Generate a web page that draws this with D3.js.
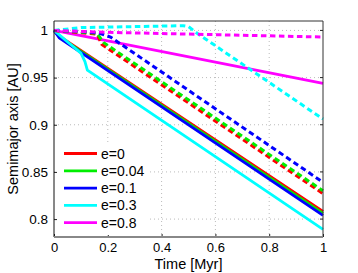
<!DOCTYPE html>
<html>
<head>
<meta charset="utf-8">
<script src="https://cdn.jsdelivr.net/npm/d3@7"></script>
<style>
  body { margin: 0; background: #fff; }
  text { font-family: "Liberation Sans", Arial, sans-serif; }
</style>
</head>
<body>
<div id="chart"></div>
<script>
// data: time in Myr, semimajor axis in AU
var labels = ["e=0", "e=0.04", "e=0.1", "e=0.3", "e=0.8"];
var colors = ["#ff0000", "#00ee00", "#0000ff", "#00ffff", "#ff00ff"];

// solid lines
var solidT = [
  [0, 0.02, 1],
  [0, 0.02, 1],
  [0, 0.02, 1],
  [0, 0.1, 0.115, 0.124, 1],
  [0, 0.2, 1]
];
var solidA = [
  [1, 0.994, 0.808],
  [1, 0.993, 0.806],
  [1, 0.992, 0.804],
  [1, 0.976, 0.967, 0.958, 0.789],
  [1, 0.989, 0.944]
];

// dashed lines
var dashT = [
  [0, 0.16, 0.178, 1],
  [0, 0.16, 0.185, 1],
  [0, 0.1, 0.17, 0.21, 1],
  [0, 0.1, 0.48, 0.5, 0.532, 1],
  [0, 0.2, 1]
];
var dashA = [
  [1, 0.996, 0.985, 0.827],
  [1, 0.997, 0.987, 0.830],
  [1, 0.999, 0.997, 0.993, 0.839],
  [1, 1.003, 1.005, 1.004, 0.997, 0.906],
  [1, 0.998, 0.993]
];

var xTicks = [0, 0.2, 0.4, 0.6, 0.8, 1];
var yTicks = [0.8, 0.85, 0.9, 0.95, 1];

var margin = {top: 21, right: 35, bottom: 36, left: 54},
    width = 323 - margin.left,
    height = 237 - margin.top;

var svg = d3.select("#chart")
  .append("svg")
    .attr("width", 358)
    .attr("height", 273)
  .append("g")
    .attr("transform", "translate(" + margin.left + "," + margin.top + ")");

var x = d3.scaleLinear().domain([0, 1]).range([0, width]);
var y = d3.scaleLinear().domain([0.781, 1.010]).range([height, 0]);

// grid
svg.selectAll("xgrid")
  .data(xTicks.slice(1, -1))
  .enter()
  .append("line")
    .attr("x1", function(d) { return x(d); })
    .attr("x2", function(d) { return x(d); })
    .attr("y1", 0)
    .attr("y2", height)
    .attr("stroke", "#bbb")
    .attr("stroke-dasharray", "1,3");
svg.selectAll("ygrid")
  .data(yTicks)
  .enter()
  .append("line")
    .attr("x1", 0)
    .attr("x2", width)
    .attr("y1", function(d) { return y(d); })
    .attr("y2", function(d) { return y(d); })
    .attr("stroke", "#bbb")
    .attr("stroke-dasharray", "1,3");

var line = d3.line()
  .x(function(d) { return x(d[0]); })
  .y(function(d) { return y(d[1]); });

var plot = svg.append("g");

labels.forEach(function(l, i) {
  plot.append("path")
    .datum(solidT[i].map(function(t, j) { return [t, solidA[i][j]]; }))
    .attr("d", line)
    .attr("fill", "none")
    .attr("stroke", colors[i])
    .attr("stroke-width", 2.8);
});
labels.forEach(function(l, i) {
  plot.append("path")
    .datum(dashT[i].map(function(t, j) { return [t, dashA[i][j]]; }))
    .attr("d", line)
    .attr("fill", "none")
    .attr("stroke", colors[i])
    .attr("stroke-width", 3)
    .attr("stroke-dasharray", "5.5,3.5");
});

// axes
var xAxis = svg.append("g")
  .attr("transform", "translate(0," + height + ")")
  .call(d3.axisBottom(x).tickValues(xTicks).tickFormat(d3.format("~g")).tickSizeInner(-3).tickSizeOuter(0).tickPadding(6));
var yAxis = svg.append("g")
  .call(d3.axisLeft(y).tickValues(yTicks).tickFormat(d3.format("~g")).tickSizeInner(-3).tickSizeOuter(0).tickPadding(6));
[xAxis, yAxis].forEach(function(a) {
  a.select(".domain").remove();
  a.selectAll("line").attr("stroke", "#222");
  a.selectAll("text").attr("font-size", 13.5).attr("fill", "#000");
});
xAxis.selectAll("text").attr("font-size", 13);

// right-side ticks
svg.selectAll("rtick")
  .data(yTicks)
  .enter()
  .append("line")
    .attr("x1", width - 3)
    .attr("x2", width)
    .attr("y1", function(d) { return y(d); })
    .attr("y2", function(d) { return y(d); })
    .attr("stroke", "#222");

// frame
svg.append("line").attr("x1", 0).attr("x2", width).attr("y1", 0).attr("y2", 0).attr("stroke", "#333");
svg.append("line").attr("x1", width).attr("x2", width).attr("y1", 0).attr("y2", height).attr("stroke", "#333");
svg.append("line").attr("x1", 0).attr("x2", 0).attr("y1", 0).attr("y2", height).attr("stroke", "#111");
svg.append("line").attr("x1", 0).attr("x2", width).attr("y1", height).attr("y2", height)
  .attr("stroke", "#888").attr("stroke-width", 2);

// legend
var legend = svg.append("g").attr("transform", "translate(4,122)");
legend.append("rect")
  .attr("x", 0).attr("y", 0).attr("width", 92).attr("height", 92)
  .attr("fill", "#fff");
labels.forEach(function(l, i) {
  var ly = 10.5 + i * 17.3;
  legend.append("line")
    .attr("x1", 6).attr("x2", 39).attr("y1", ly).attr("y2", ly)
    .attr("stroke", colors[i]).attr("stroke-width", 2.8);
  legend.append("text")
    .attr("x", 43).attr("y", ly + 5)
    .attr("font-size", 14)
    .text(l);
});

// axis labels
svg.append("text")
  .attr("text-anchor", "middle")
  .attr("x", width / 2)
  .attr("y", height + 32)
  .attr("font-size", 14.5)
  .text("Time [Myr]");
svg.append("text")
  .attr("text-anchor", "middle")
  .attr("transform", "translate(-36," + (height / 2) + ")rotate(-90)")
  .attr("font-size", 14.5)
  .text("Semimajor axis [AU]");
</script>
</body>
</html>
